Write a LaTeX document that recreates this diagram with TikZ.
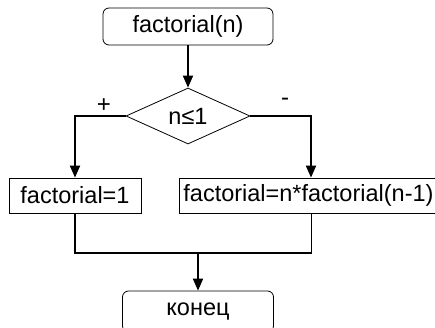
\documentclass[tikz,border=0pt]{standalone}
\usepackage{fontspec}
\setmainfont{Liberation Sans}
\usetikzlibrary{shapes.geometric,arrows.meta,calc}
\begin{document}
\begin{tikzpicture}[x=1pt,y=-1pt,
  every node/.style={font=\fontsize{23.5}{26}\selectfont},
  termbox/.style={draw,line width=0.8pt,rounded corners=6pt,inner sep=0pt},
  procbox/.style={draw,line width=0.8pt,inner sep=0pt},
  decbox/.style={draw,line width=0.8pt,diamond,inner sep=0pt,minimum width=124pt,minimum height=56pt},
  flow/.style={line width=1.9pt,-{Triangle[length=12pt,width=10pt]}},
  plain/.style={line width=1.7pt},
  thin/.style={line width=0.9pt},
  sign/.style={font=\fontsize{24}{26}\selectfont,inner sep=0pt}]
\useasboundingbox (0,0) rectangle (435,328);
\clip (0,0) rectangle (435,328);
\node[termbox,minimum width=170pt,minimum height=37pt] (start) at (188,26.5) {factorial(n)};
\node[decbox] (d) at (188,116) {n≤1};
\node[procbox,minimum width=132pt,minimum height=35pt] (lb) at (75,195.5) {factorial=1};
\node[procbox,anchor=west,minimum height=35pt,text width=252pt,align=left,inner xsep=4pt] (rb) at (179,195.5) {factorial=n*factorial(n-1)};
\node[termbox,minimum width=151pt,minimum height=41pt] (end) at (198,311.5) {конец};
\coordinate (lx) at (75,0);
\coordinate (rx) at (311,0);
\coordinate (join) at (198,253);
\node[sign] (plus) at (104,106) {+};
\node[sign] (minus) at (285,102) {-};
\draw[flow] (start) -- (d);
\draw[flow] (d.west) -| (lb.north -| lx);
\draw[flow] (d.east) -| (rb.north -| rx);
\draw[plain] (lb.south -| lx) |- (join);
\draw[thin] (rb.south -| rx) |- (join);
\draw[plain] ($(join)+(-0.8,0)$) -- (join -| rx);
\draw[flow] (join) -- (end);
\end{tikzpicture}
\end{document}
